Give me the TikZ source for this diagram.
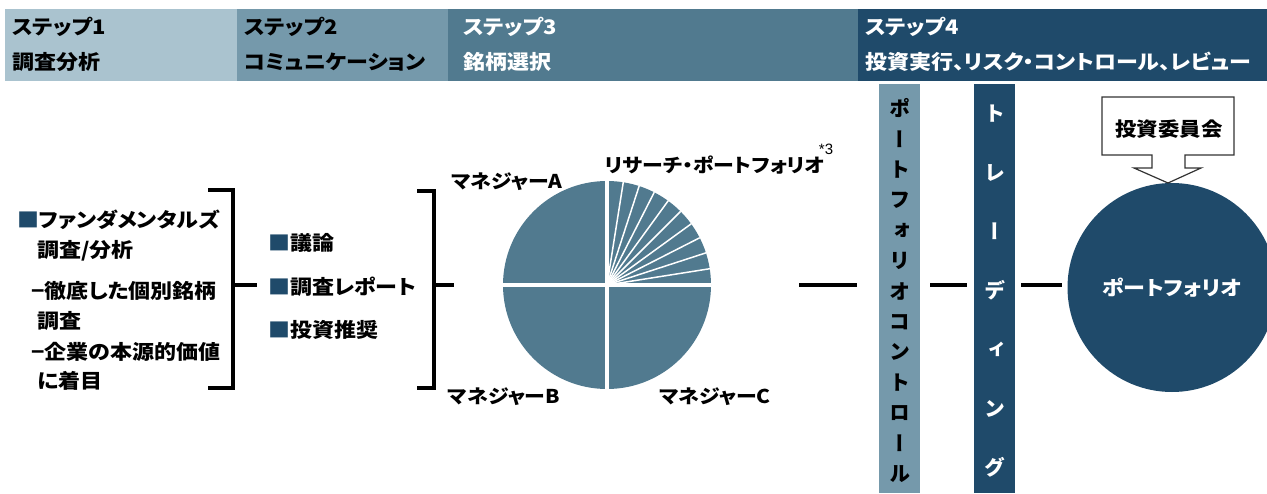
\documentclass[tikz,border=0pt]{standalone}
\usepackage{fontspec}
\setmainfont{Noto Sans CJK JP}[FakeStretch=1.1, RawFeature={+palt}]
\newfontfamily\vjp{Noto Sans CJK JP}[RawFeature={+vert}]
\newfontfamily\arial{Liberation Sans}
\definecolor{cA}{HTML}{AAC3CF}
\definecolor{cB}{HTML}{7599AB}
\definecolor{cC}{HTML}{517A8F}
\definecolor{cD}{HTML}{1F4A6A}
\newcommand\sq{{\color{cD}■}}
\begin{document}
\begin{tikzpicture}[x=1pt,y=-1pt,
  hdrtext/.style={anchor=west, align=left, inner sep=0, font=\bfseries\fontsize{20}{35}\selectfont},
  lefttext/.style={anchor=west, inner sep=0, font=\bfseries\fontsize{20}{24}\selectfont},
  pielabel/.style={inner sep=0, font=\bfseries\fontsize{19}{22}\selectfont},
  bracket/.style={line width=3.5, black},
  conn/.style={line width=4, black},
  vbar/.style={inner sep=0, minimum width=41, minimum height=409, anchor=north west}]
\useasboundingbox (0,0) rectangle (1267,493);
\clip (0,0) rectangle (1267,493);
% header
\fill[cA] (5,9) rectangle (237,81);
\fill[cB] (237,9) rectangle (448,81);
\fill[cC] (448,9) rectangle (858,81);
\fill[cD] (858,9) rectangle (1267,81);
\node[hdrtext, text=black] (h1) at (12,44) {ステップ1\\調査分析};
\node[hdrtext, text=black] (h2) at (244,44) {ステップ2\\コミュニケーション};
\node[hdrtext, text=white] (h3) at (463,44) {ステップ3\\銘柄選択};
\node[hdrtext, text=white] (h4) at (865,44) {ステップ4\\投資実行、リスク・コントロール、レビュー};
% left column
\node[lefttext] (l1) at (17,220) {\sq ファンダメンタルズ};
\node[lefttext] (l2) at (37,251) {調査/分析};
\node[lefttext] (l3) at (31,291) {−徹底した個別銘柄};
\node[lefttext] (l4) at (37,321) {調査};
\node[lefttext] (l5) at (31,352) {−企業の本源的価値};
\node[lefttext] (l6) at (37,381) {に着目};
% bracket 1
\coordinate (b1t) at (208,190);
\coordinate (b1c) at (233,190);
\coordinate (b1d) at (233,388);
\coordinate (b1b) at (208,388);
\coordinate (b1m) at (233,285);
\coordinate (b1e) at (257,285);
\draw[bracket] (b1t) -- (b1c) -- (b1d) -- (b1b);
\draw[bracket] (b1m) -- (b1e);
% middle list
\node[lefttext] (m1) at (268,243) {\sq 議論};
\node[lefttext] (m2) at (268,287) {\sq 調査レポート};
\node[lefttext] (m3) at (268,330) {\sq 投資推奨};
% bracket 2
\coordinate (b2t) at (417,191);
\coordinate (b2c) at (434,191);
\coordinate (b2d) at (434,388);
\coordinate (b2b) at (417,388);
\coordinate (b2m) at (434,285);
\coordinate (b2e) at (454,285);
\draw[bracket] (b2t) -- (b2c) -- (b2d) -- (b2b);
\draw[bracket] (b2m) -- (b2e);
% pie
\node[circle, fill=cC, minimum size=208, inner sep=0] (pie) at (607,285) {};
\draw[white, line width=4] (pie.west) -- (pie.east);
\draw[white, line width=4] (pie.north) -- (pie.south);
\foreach \a in {9,18,...,81} \draw[white, line width=1.5] (pie.center) -- (pie.\a);
\node[pielabel] (ma) at (507,182) {マネジャーA};
\node[pielabel] (rp) at (715,165) {リサーチ・ポートフォリオ};
\node[inner sep=0, font=\arial\fontsize{15}{17}\selectfont] (n3) at (826,149) {*3};
\node[pielabel] (mb) at (504,397) {マネジャーB};
\node[pielabel] (mc) at (715,397) {マネジャーC};
% vertical bars
\node[vbar, fill=cB] (pcbar) at (879,84) {};
\node[vbar, fill=cD] (trbar) at (974,84) {};
\node[inner sep=0, align=center, font=\vjp\bfseries\fontsize{21}{30.4}\selectfont] (pctext) at (pcbar.center |- 0,290.5) {ポ\\ー\\ト\\フ\\ォ\\リ\\オ\\コ\\ン\\ト\\ロ\\ー\\ル};
\node[inner sep=0, align=center, text=white, font=\vjp\bfseries\fontsize{21}{59}\selectfont] (trtext) at (trbar.center |- 0,291.5) {ト\\レ\\ー\\デ\\ィ\\ン\\グ};
% connectors
\coordinate (c1a) at (799,285);
\coordinate (c1b) at (857,285);
\coordinate (c2a) at (930,285);
\coordinate (c2b) at (967,285);
\coordinate (c3a) at (1021,285);
\coordinate (c3b) at (1062,285);
\draw[conn] (c1a) -- (c1b);
\draw[conn] (c2a) -- (c2b);
\draw[conn] (c3a) -- (c3b);
% portfolio circle
\node[circle, fill=cD, minimum size=209, inner sep=0, text=white, font=\bfseries\fontsize{20}{24}\selectfont] (port) at (1172,287.5) {ポートフォリオ};
% committee callout
\draw[draw=black!80, line width=1.2, fill=white] (1102,97) -- (1234,97) -- (1234,155) -- (1185,155) -- (1185,168) -- (1201,168) -- (1168,183) -- (1134,168) -- (1152,168) -- (1152,155) -- (1102,155) -- cycle;
\node[inner sep=0, font=\bfseries\fontsize{19.5}{24}\selectfont] (com) at (1169,129) {投資委員会};
\end{tikzpicture}
\end{document}
